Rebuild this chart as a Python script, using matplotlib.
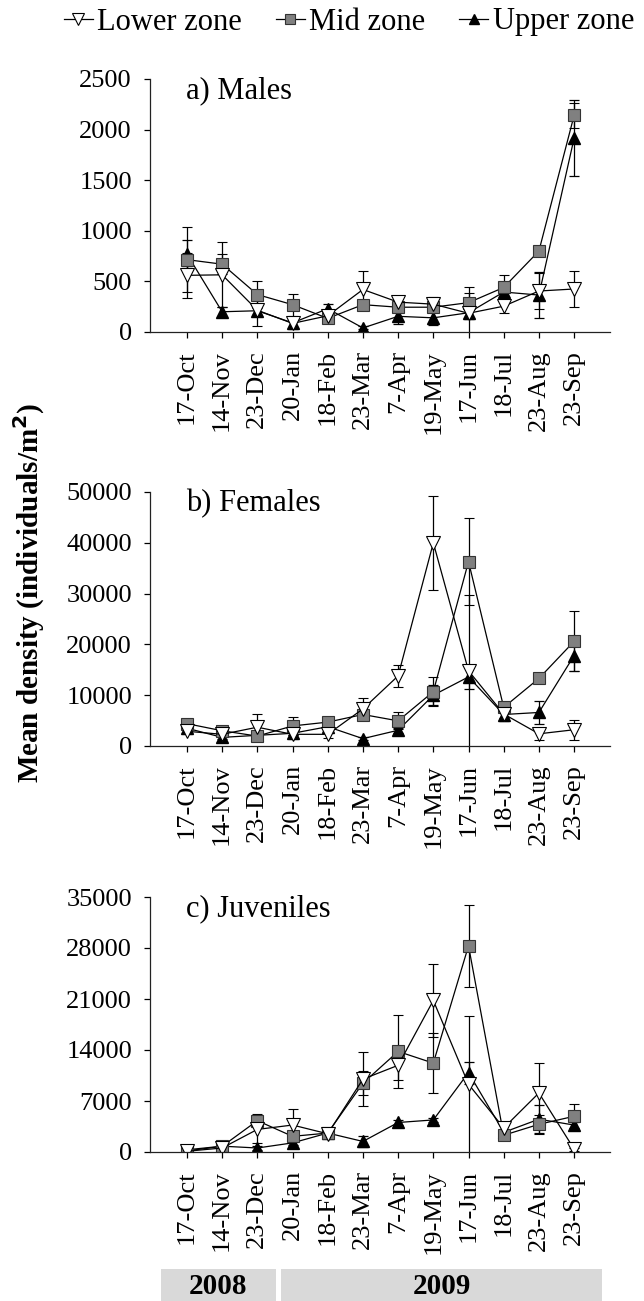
import matplotlib
matplotlib.use('Agg')
import matplotlib.pyplot as plt
from matplotlib.lines import Line2D
from matplotlib.patches import Rectangle
import numpy as np

plt.rcParams['font.family'] = ['Liberation Serif', 'DejaVu Serif']

dates = ['17-Oct', '14-Nov', '23-Dec', '20-Jan', '18-Feb', '23-Mar',
         '7-Apr', '19-May', '17-Jun', '18-Jul', '23-Aug', '23-Sep']

# a) Males
males_lower = [560, 565, 215, 85, 160, 420, 295, 275, 185, 255, 405, 425]
males_lower_err = [225, 320, 160, 40, 40, 180, 55, 70, 200, 65, 180, 175]
males_mid = [715, 670, 370, 270, 135, 270, 245, 245, 290, 440, 800, 2140]
males_mid_err = [320, 100, 130, 110, 40, 40, 40, 40, 150, 120, 30, 120]
males_upper = [770, 200, 210, 90, 230, 40, 155, 140, 190, 395, 365, 1915]
males_upper_err = [140, 50, 40, 60, 50, 15, 80, 70, 60, 50, 230, 375]

# b) Females
females_lower = [2900, 2300, 3700, 2300, 2300, 7300, 13800, 40000, 14800, 6300, 2400, 3200]
females_lower_err = [600, 600, 2600, 1000, 800, 2100, 2200, 9300, 15000, 800, 1200, 2000]
females_mid = [4400, 3000, 1950, 3950, 4700, 6200, 4950, 10700, 36300, 7600, 13300, 20600]
females_mid_err = [500, 400, 500, 1700, 1000, 800, 1700, 2800, 8500, 600, 500, 5900]
females_upper = [3500, 1700, 2100, 2500, 3800, 1450, 3100, 10000, 13600, 6200, 6600, 17800]
females_upper_err = [400, 400, 300, 400, 400, 300, 500, 2000, 2300, 1300, 2300, 3000]

# c) Juveniles
juv_lower = [100, 550, 3100, 3700, 2500, 10000, 11900, 20800, 9300, 3300, 8100, 400]
juv_lower_err = [100, 200, 1900, 2200, 300, 3700, 2000, 5000, 9400, 400, 4100, 200]
juv_mid = [150, 780, 4300, 2150, 2600, 9450, 13800, 12200, 28300, 2300, 3800, 4900]
juv_mid_err = [100, 200, 900, 300, 300, 1600, 5000, 4100, 5600, 300, 1300, 1700]
juv_upper = [300, 800, 550, 1250, 2600, 1450, 4050, 4400, 10900, 2700, 4500, 3700]
juv_upper_err = [100, 200, 300, 300, 300, 800, 300, 300, 1500, 300, 1900, 400]

panels = [
    ('a) Males', males_lower, males_lower_err, males_mid, males_mid_err,
     males_upper, males_upper_err, 2500, 500, (79, 332)),
    ('b) Females', females_lower, females_lower_err, females_mid, females_mid_err,
     females_upper, females_upper_err, 50000, 10000, (492, 746)),
    ('c) Juveniles', juv_lower, juv_lower_err, juv_mid, juv_mid_err,
     juv_upper, juv_upper_err, 35000, 7000, (897, 1152)),
]

W, H = 644, 1301
fig = plt.figure(figsize=(W / 100, H / 100), dpi=100)

x = np.arange(len(dates))
left_px, right_px = 150, 610

lower_style = dict(marker='v', markersize=10, markerfacecolor='white',
                   markeredgecolor='black', markeredgewidth=0.8)
mid_style = dict(marker='s', markersize=8.5, markerfacecolor='#808080',
                 markeredgecolor='#333333', markeredgewidth=0.8)
upper_style = dict(marker='^', markersize=8.5, markerfacecolor='black',
                   markeredgecolor='black')

for title, lo, lo_e, mi, mi_e, up, up_e, ymax, step, (top_px, bot_px) in panels:
    ax = fig.add_axes([left_px / W, 1 - bot_px / H,
                       (right_px - left_px) / W, (bot_px - top_px) / H])
    eb = dict(color='black', linewidth=0.9, elinewidth=0.9, ecolor='black',
              capsize=3.5, capthick=0.9)
    ax.errorbar(x, up, yerr=up_e, **eb, **upper_style)
    ax.errorbar(x, mi, yerr=mi_e, **eb, **mid_style)
    ax.errorbar(x, lo, yerr=lo_e, **eb, **lower_style)

    ax.set_xlim(-1.05, 12.02)
    ax.set_ylim(0, ymax)
    ax.set_yticks(np.arange(0, ymax + 1, step))
    ax.set_xticks(x)
    ax.set_xticklabels(dates, rotation=90, fontsize=19)
    ax.tick_params(axis='y', labelsize=19, direction='out', length=4, width=0.9, pad=9)
    ax.tick_params(axis='x', direction='out', length=4, width=0.9, pad=9)
    for s in ['top', 'right']:
        ax.spines[s].set_visible(False)
    for s in ['left', 'bottom']:
        ax.spines[s].set_linewidth(0.9)
        ax.spines[s].set_color('#222222')
    ax.text(0.078, 0.955, title, transform=ax.transAxes, fontsize=22,
            ha='left', va='center')

fig.text(29 / W, 1 - 593 / H, 'Mean density (individuals/m$^\\mathbf{2}$)',
         rotation=90, fontsize=21, fontweight='bold', ha='center', va='center')

# legend
handles = [
    Line2D([], [], color='black', linewidth=0.9, markersize=8, **{k: v for k, v in lower_style.items() if k != 'markersize'}),
    Line2D([], [], color='black', linewidth=0.9, markersize=7, **{k: v for k, v in mid_style.items() if k != 'markersize'}),
    Line2D([], [], color='black', linewidth=0.9, markersize=7, **{k: v for k, v in upper_style.items() if k != 'markersize'}),
]
fig.legend(handles, ['Lower zone', 'Mid zone', 'Upper zone'], ncol=3,
           loc='center', bbox_to_anchor=(349 / W, 1 - 22 / H), frameon=False,
           fontsize=22, handlelength=0.95, handletextpad=0.15,
           columnspacing=1.1, borderpad=0)

# year bars
for label, x0, x1 in [('2008', 161, 276), ('2009', 281, 602)]:
    fig.add_artist(Rectangle((x0 / W, 0), (x1 - x0) / W, 32 / H,
                             transform=fig.transFigure, facecolor='#d9d9d9',
                             edgecolor='none'))
    fig.text((x0 + x1) / 2 / W, 1 - 1287 / H, label, fontsize=21,
             fontweight='bold', ha='center', va='center')

fig.savefig('out.png', dpi=100)
